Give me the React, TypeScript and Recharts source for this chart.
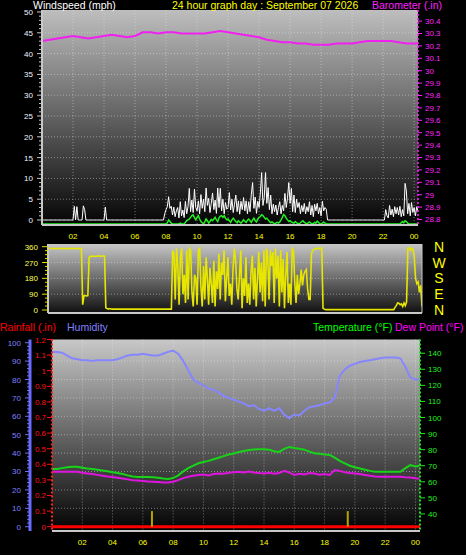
import React from 'react';
import { ComposedChart, Line, XAxis, YAxis, CartesianGrid, ReferenceLine } from 'recharts';

const FONT = '"Liberation Sans", Arial, Helvetica, sans-serif';

// ---------- categories / ticks ----------
const HOUR_TICKS = [2, 4, 6, 8, 10, 12, 14, 16, 18, 20, 22, 24];
const WIND_TICKS = [0,1,2,3,4,5,6,7,8,9,10,11,12,13,14,15,16,17,18,19,20,21,22,23,24,25,26,27,28,29,30,31,32,33,34,35,36,37,38,39,40,41,42,43,44,45,46,47,48,49,50];
const WIND_GRID = [5, 10, 15, 20, 25, 30, 35, 40, 45];
const BARO_TICKS = [28.8, 28.9, 29.0, 29.1, 29.2, 29.3, 29.4, 29.5, 29.6, 29.7, 29.8, 29.9, 30.0, 30.1, 30.2, 30.3, 30.4];
const DIR_TICKS = [0, 22.5, 45, 67.5, 90, 112.5, 135, 157.5, 180, 202.5, 225, 247.5, 270, 292.5, 315, 337.5, 360];
const DIR_GRID = [90, 180, 270];
const COMPASS_TICKS = [0, 90, 180, 270, 360];
const COMPASS_LABELS = ['N', 'E', 'S', 'W', 'N'];
const HUM_TICKS = [0,2,4,6,8,10,12,14,16,18,20,22,24,26,28,30,32,34,36,38,40,42,44,46,48,50,52,54,56,58,60,62,64,66,68,70,72,74,76,78,80,82,84,86,88,90,92,94,96,98,100];
const HUM_GRID = [10, 20, 30, 40, 50, 60, 70, 80, 90];
const RAIN_TICKS = [0, 0.1, 0.2, 0.3, 0.4, 0.5, 0.6, 0.7, 0.8, 0.9, 1.0, 1.1, 1.2];
const TEMP_TICKS = [40, 50, 60, 70, 80, 90, 100, 110, 120, 130, 140];

// ---------- sample times (hours) ----------
const WIND_TIMES = Array.from({ length: 292 }, (_, i) => i / 12); // 5-minute samples
const SLOW_TIMES = [...Array.from({ length: 73 }, (_, i) => i / 3), 24.25]; // 20-minute samples
const BARO_TIMES = [...Array.from({ length: 49 }, (_, i) => i / 2), 24.25]; // 30-minute samples
const RAIN_TIMES = [0, 24.3];

// ---------- series values ----------
const windGust = [
  0,0,0,0,0,0,0,0,0,0,0,0,
  0,0,0,0,0,0,0,0,0,0,0,0,
  0,3.3,0,3.2,0,0,0,0,3.4,2.5,0,0,
  0,0,0,0,0,0,0,0,0,0,0,0,
  0,3.1,0,0,0,0,0,0,0,0,0,0,
  0,0,0,0,0,0,0,0,0,0,0,0,
  0,0,0,0,0,0,0,0,0,0,0,0,
  0,0,0,0,0,0,0,0,0,0,0,1.5,
  2.5,3.2,5.6,2.8,3.3,1.2,3.1,0.8,2.2,3.0,0.5,4.4,
  1.0,2.4,0.6,4.5,1.5,3.2,7.6,2.0,4.8,1.8,7.4,3.0,
  2.2,4.6,1.5,6.1,2.8,5.0,2.0,7.7,3.5,5.2,1.8,4.0,
  6.5,2.5,4.8,1.6,7.7,3.0,7.6,2.2,5.0,1.5,4.2,2.6,
  3.0,6.6,2.4,5.0,1.8,3.8,6.0,2.0,4.6,1.4,4.5,2.5,
  5.4,2.2,4.6,1.5,4.4,2.0,6.2,9.0,2.8,5.5,1.6,4.5,
  3.0,6.5,11.4,3.5,5.5,11.4,4.0,7.8,2.5,6.0,1.5,3.8,
  2.0,3.6,1.2,3.0,4.4,1.5,3.5,2.2,6.4,3.0,5.2,9.0,
  4.0,7.6,2.0,6.0,1.8,5.0,3.0,4.2,1.5,3.5,2.0,4.0,
  1.5,3.2,2.0,4.4,1.2,3.5,0.8,3.8,2.2,4.0,1.5,3.0,
  1.0,4.5,2.2,3.0,2.6,0,0,0,0,0,0,0,
  0,0,0,0,0,0,0,0,0,0,0,0,
  0,0,0,0,0,0,0,0,0,0,0,0,
  0,0,0,0,0,0,0,0,0,0,0,0,
  0,0,2.5,1.0,0.5,3.5,1.2,2.6,0.8,3.2,1.5,3.0,
  1.2,3.3,0.8,2.5,1.0,8.8,7.0,1.5,4.0,1.0,4.2,1.8,
  3.0,1.0,3.2,2.0,
];

const windAvg = [
  0,0,0,0,0,0,0,0,0,0,0,0,
  0,0,0,0,0,0,0,0,0,0,0,0,
  0,0,0,0,0,0,0,0,0,0,0,0,
  0,0,0,0,0,0,0,0,0,0,0,0,
  0,0,0,0,0,0,0,0,0,0,0,0,
  0,0,0,0,0,0,0,0,0,0,0,0,
  0,0,0,0,0,0,0,0,0,0,0,0,
  0,0,0,0,0,0,0,0,0,0,0,0,
  0,0.3,1.0,0.6,0.2,0,0,0,0,0,0,0.2,
  0,0,0,0.4,0.8,1.0,1.2,1.6,2.0,2.2,1.5,1.0,
  1.6,2.0,1.2,0.6,0.3,0,0.5,1.2,0.8,0.2,0.6,1.1,
  0.8,1.2,1.6,1.0,0.6,1.5,1.9,2.0,1.6,2.0,1.4,1.0,
  1.2,0.8,0.4,1.0,1.4,1.0,0.6,0.3,0.8,0.5,0.2,0.6,
  1.0,0.6,0.4,0.9,1.2,0.8,0.4,1.0,1.4,0.8,0.5,1.2,
  1.6,1.8,2.2,2.0,1.6,1.2,1.4,1.0,0.6,0.3,0.5,0.3,
  0,0.2,0.4,0.2,0.5,1.0,1.6,2.3,2.0,1.4,1.0,0.6,
  0.8,0.5,0.3,0.2,0.6,0.3,0.1,0,0.3,0.6,0.8,0.4,
  0.2,0,0.3,0.5,0.2,0,0.1,0.4,0.2,0.7,0.4,0,
  0,0.2,0.5,0.2,0,0,0,0,0,0,0,0,
  0,0,0,0,0,0,0,0,0,0,0,0,
  0,0,0,0,0,0,0,0,0,0,0,0,
  0,0,0,0,0,0,0,0,0,0,0,0,
  0,0,0,0,0,0,0,0,0,0,0,0,
  0,0,0.3,0.6,0.3,0.8,0.6,0.2,0,0,0,0,
  0,0,0,0,
];

const windDir = [
  350,350,350,350,350,350,350,350,350,350,350,350,
  350,350,350,350,350,350,350,350,350,350,350,350,
  350,350,350,30,80,82,80,82,300,305,305,306,
  306,305,306,308,306,307,306,308,306,12,8,5,
  8,6,5,5,5,5,5,5,5,5,5,5,
  5,5,5,5,5,5,5,5,5,5,5,5,
  5,5,5,5,5,5,5,5,5,5,5,5,
  5,5,5,5,5,5,5,5,5,5,5,5,
  5,340,320,60,350,250,30,300,350,90,200,40,
  340,60,350,340,100,20,200,180,30,340,350,130,
  20,250,60,300,180,30,240,150,40,280,20,220,
  120,320,60,270,200,340,50,180,300,80,150,30,
  240,350,280,120,60,200,340,10,180,80,300,40,
  150,30,220,310,60,240,20,180,330,100,270,50,
  340,20,350,300,60,340,250,330,40,350,180,310,
  20,340,100,290,10,200,330,40,150,30,350,340,
  160,40,200,90,150,230,140,200,220,230,120,60,
  60,320,340,345,348,350,350,352,350,352,10,5,
  2,2,2,2,2,2,2,2,2,2,2,2,
  2,2,2,2,2,2,2,2,2,2,2,2,
  2,2,2,2,2,2,2,2,2,2,2,2,
  2,2,2,2,2,2,2,2,2,2,2,2,
  2,2,2,2,2,2,15,25,40,38,30,35,
  20,40,25,45,350,355,340,350,345,300,180,150,
  160,100,140,20,
];

const barometer = [
  30.24, 30.25, 30.26, 30.27, 30.28, 30.27, 30.26, 30.27, 30.28, 30.29,
  30.28, 30.27, 30.28, 30.31, 30.31, 30.30, 30.31, 30.31, 30.30, 30.30,
  30.30, 30.30, 30.31, 30.32, 30.31, 30.30, 30.29, 30.28, 30.27, 30.25,
  30.24, 30.23, 30.23, 30.22, 30.22, 30.21, 30.21, 30.21, 30.22, 30.22,
  30.22, 30.23, 30.24, 30.24, 30.24, 30.24, 30.23, 30.22, 30.22, 30.22,
];

const humidity = [
  95, 95, 94.5, 93, 91.5, 91, 90.5, 90.5, 90, 90.5, 90.5, 90.5, 90.5, 91, 92, 93, 93.5, 93.5, 94, 93.5,
  93, 93, 94, 95, 95.7, 94, 90, 85, 80, 78, 77, 75, 74.5, 73, 71, 70, 69, 68, 67, 65.5,
  66, 64, 63, 64.5, 63, 64.5, 61, 59, 61, 60.5, 63, 65, 65.5, 66, 67, 67.5, 70, 82, 85.5, 87.5,
  88.5, 89.5, 90, 90.5, 91, 91.5, 92, 92, 92, 91.5, 87, 81, 80, 80,
];

const temperature = [
  68, 68, 68.5, 69, 69.3, 69.3, 68.8, 68.3, 68, 67.5, 67, 66.5, 66, 65.5, 64.8, 64, 63.3, 63, 63, 63,
  62.8, 62.5, 62, 61.7, 62.3, 64, 66.5, 68.5, 70, 71.5, 72.3, 73, 74, 75, 76, 77, 77.6, 78.5, 79.2, 79.8,
  80.1, 80.3, 80.2, 80, 79, 78.6, 80.5, 81.7, 81, 80.5, 80, 78.8, 77.8, 77.5, 77, 76.7, 75, 73, 71.5, 70,
  69, 68.3, 67.5, 66.8, 66.3, 66.2, 66.2, 66.2, 66.2, 66.2, 68.5, 70.4, 69.5, 70,
];

const dewPoint = [
  66.2, 66.2, 66.2, 66.3, 66.2, 66.2, 65.6, 65.2, 64.8, 64.3, 63.8, 63.3, 63, 62.5, 62, 61.5, 61, 60.8, 60.5, 60.2,
  60, 59.8, 59.6, 59.6, 60, 61, 62.3, 63.1, 63.8, 64.2, 64.5, 64, 64.8, 65.2, 65, 65.6, 66, 66.2, 65.8, 66.4,
  65.8, 65.4, 65.2, 65.6, 65, 65.4, 66.8, 65.8, 64.2, 65, 64.6, 65.4, 65.2, 64.4, 64.8, 64.2, 67.3, 66.8, 66, 65.5,
  65.2, 64.8, 64.2, 63.7, 63.3, 63.1, 63.1, 63.1, 63.1, 63.1, 62.8, 62.7, 62.2, 61.9,
];

const rainfall = [0, 0];
const RAIN_MARK_TIMES = [6.6, 19.53];
const RAIN_MARK_VALUES = [0.1, 0.1];

// ---------- build series tables ----------
const mk = (times: number[], values: number[]) => times.map((h, i) => ({ h, v: values[i] }));
const gustData = mk(WIND_TIMES, windGust);
const avgData = mk(WIND_TIMES, windAvg);
const dirData = mk(WIND_TIMES, windDir);
const baroData = mk(BARO_TIMES, barometer);
const humData = mk(SLOW_TIMES, humidity);
const tempData = mk(SLOW_TIMES, temperature);
const dewData = mk(SLOW_TIMES, dewPoint);
const rainData = mk(RAIN_TIMES, rainfall);

// ---------- tick renderers ----------
const hourLabel = (h: number) => (h % 24 === 0 ? '00' : String(h).padStart(2, '0'));
const trimNum = (v: number) => String(Number(v.toFixed(1)));

type TickOpts = {
  side: 'left' | 'right';
  color: string;
  tickColor: string;
  isMajor: (v: number) => boolean;
  fmt: (v: number) => string;
  majorLen: number;
  minorLen: number;
  gap: number;
};

const makeTick = (o: TickOpts) => (props: any) => {
  const { x, y, payload } = props;
  const v = Number(payload.value);
  const major = o.isMajor(v);
  const len = major ? o.majorLen : o.minorLen;
  const sgn = o.side === 'left' ? -1 : 1;
  return (
    <g>
      <line x1={x} x2={x + sgn * len} y1={y} y2={y} stroke={o.tickColor} strokeWidth={1} />
      {major ? (
        <text
          x={x + sgn * o.gap}
          y={y + 3}
          textAnchor={o.side === 'left' ? 'end' : 'start'}
          fill={o.color}
          fontSize={8}
          fontFamily={FONT}
        >
          {o.fmt(v)}
        </text>
      ) : null}
    </g>
  );
};

const windTick = makeTick({ side: 'left', color: '#f2f4ff', tickColor: '#c8c8c8', isMajor: (v) => v % 5 === 0, fmt: (v) => String(v), majorLen: 5, minorLen: 3, gap: 9 });
const baroTick = makeTick({ side: 'right', color: '#ff22ff', tickColor: '#ff22ff', isMajor: () => true, fmt: trimNum, majorLen: 4, minorLen: 2, gap: 7 });
const dirTick = makeTick({ side: 'left', color: '#ffff50', tickColor: '#e0e000', isMajor: (v) => v % 90 === 0, fmt: (v) => String(v), majorLen: 6, minorLen: 3, gap: 10 });
const humTick = makeTick({ side: 'left', color: '#8080ff', tickColor: '#7070ff', isMajor: (v) => v % 10 === 0, fmt: (v) => String(v), majorLen: 5, minorLen: 3, gap: 9 });
const rainTick = makeTick({ side: 'left', color: '#ff1010', tickColor: '#ff1010', isMajor: () => true, fmt: trimNum, majorLen: 5, minorLen: 2, gap: 6 });
const tempTick = makeTick({ side: 'right', color: '#20f020', tickColor: '#20f020', isMajor: () => true, fmt: (v) => String(v), majorLen: 5, minorLen: 2, gap: 8 });

const hourTick = (props: any) => (
  <text x={props.x} y={props.y + 14} textAnchor="middle" fill="#ffff00" fontSize={8} fontFamily={FONT}>
    {hourLabel(Number(props.payload.value))}
  </text>
);

const compassTick = (props: any) => {
  const idx = COMPASS_TICKS.indexOf(Number(props.payload.value));
  return (
    <text x={props.x + 17} y={props.y + 5} textAnchor="middle" fill="#ffff00" fontSize={14} fontFamily={FONT}>
      {COMPASS_LABELS[idx]}
    </text>
  );
};

const GRID_STYLE = { stroke: '#e8e8e8', strokeOpacity: 0.45, strokeDasharray: '1 2' };
const noAnim = { isAnimationActive: false, dot: false, activeDot: false, type: 'linear' as const };

function WindPanel() {
  return (
    <ComposedChart width={466} height={245} margin={{ top: 10, right: 0, bottom: 0, left: 0 }}>
      <defs>
        <linearGradient id="bgWind" x1="0" y1="0" x2="0" y2="1">
          <stop offset="0%" stopColor="#bebebe" />
          <stop offset="100%" stopColor="#040404" />
        </linearGradient>
      </defs>
      <CartesianGrid yAxisId="a_wind" fill="url(#bgWind)" fillOpacity={1} {...GRID_STYLE} horizontalValues={WIND_GRID} verticalValues={HOUR_TICKS} />
      <XAxis dataKey="h" type="number" domain={[0, 24.25]} ticks={HOUR_TICKS} interval={0} height={20} tickSize={0} tickMargin={0} tickLine={false} axisLine={{ stroke: '#c8c8c8', strokeWidth: 2 }} tick={hourTick} allowDataOverflow />
      <YAxis yAxisId="a_wind" orientation="left" width={42} type="number" domain={[-1.2, 50.48]} ticks={WIND_TICKS} interval={0} tickSize={0} tickMargin={0} tickLine={false} axisLine={{ stroke: '#c8c8c8', strokeWidth: 2 }} tick={windTick} allowDataOverflow />
      <YAxis yAxisId="b_baro" orientation="right" width={48} type="number" domain={[28.7556, 30.4895]} ticks={BARO_TICKS} interval={0} tickSize={0} tickMargin={0} tickLine={false} axisLine={{ stroke: '#ff22ff', strokeWidth: 1.5, strokeDasharray: '2 2' }} tick={baroTick} allowDataOverflow />
      <YAxis yAxisId="z_avg" orientation="right" hide width={0} type="number" domain={[-0.24, 51.44]} allowDataOverflow />
      <Line yAxisId="a_wind" data={gustData} dataKey="v" stroke="#ffffff" strokeWidth={1} {...noAnim} />
      <Line yAxisId="z_avg" data={avgData} dataKey="v" stroke="#22f022" strokeWidth={1.5} {...noAnim} />
      <Line yAxisId="b_baro" data={baroData} dataKey="v" stroke="#f020f0" strokeWidth={2} {...noAnim} />
    </ComposedChart>
  );
}

function DirectionPanel() {
  return (
    <ComposedChart width={466} height={80} margin={{ top: 4, right: 0, bottom: 4, left: 0 }}>
      <defs>
        <linearGradient id="bgDir" x1="0" y1="0" x2="0" y2="1">
          <stop offset="0%" stopColor="#c6c6c6" />
          <stop offset="100%" stopColor="#101010" />
        </linearGradient>
      </defs>
      <CartesianGrid yAxisId="a_dir" fill="url(#bgDir)" fillOpacity={1} {...GRID_STYLE} horizontalValues={DIR_GRID} verticalValues={HOUR_TICKS} />
      <XAxis dataKey="h" type="number" domain={[0, 24.25]} ticks={HOUR_TICKS} interval={0} height={3} tick={false} tickLine={false} axisLine={{ stroke: '#c8c8c8', strokeWidth: 2 }} allowDataOverflow />
      <YAxis yAxisId="a_dir" orientation="left" width={48} type="number" domain={[-17.06, 375.36]} ticks={DIR_TICKS} interval={0} tickSize={0} tickMargin={0} tickLine={false} axisLine={{ stroke: '#c8c8c8', strokeWidth: 2 }} tick={dirTick} allowDataOverflow />
      <YAxis yAxisId="b_compass" orientation="right" width={44} type="number" domain={[-17.06, 375.36]} ticks={COMPASS_TICKS} interval={0} tickSize={0} tickMargin={0} tickLine={false} axisLine={{ stroke: '#c8c8c8', strokeWidth: 1 }} tick={compassTick} allowDataOverflow />
      <Line yAxisId="a_dir" data={dirData} dataKey="v" stroke="#e6e600" strokeWidth={1.6} {...noAnim} />
    </ComposedChart>
  );
}

function ClimatePanel() {
  return (
    <ComposedChart width={466} height={225} margin={{ top: 9.5, right: 0, bottom: 4, left: 0 }}>
      <defs>
        <linearGradient id="bgClim" x1="0" y1="0" x2="0" y2="1">
          <stop offset="0%" stopColor="#c8c8c8" />
          <stop offset="100%" stopColor="#020202" />
        </linearGradient>
      </defs>
      <CartesianGrid yAxisId="b_hum" fill="url(#bgClim)" fillOpacity={1} {...GRID_STYLE} horizontalValues={HUM_GRID} verticalValues={HOUR_TICKS} />
      <XAxis dataKey="h" type="number" domain={[0, 24.3]} ticks={HOUR_TICKS} interval={0} height={20} tickSize={0} tickMargin={0} tickLine={false} axisLine={{ stroke: '#c8c8c8', strokeWidth: 2 }} tick={hourTick} allowDataOverflow />
      <YAxis yAxisId="a_rain" orientation="left" width={22} type="number" domain={[-0.0276, 1.2]} ticks={RAIN_TICKS} interval={0} tickSize={0} tickMargin={0} tickLine={false} axisLine={{ stroke: '#ff2020', strokeWidth: 2, strokeDasharray: '2 2' }} tick={rainTick} allowDataOverflow />
      <YAxis yAxisId="b_hum" orientation="left" width={30} type="number" domain={[-2.34, 101.74]} ticks={HUM_TICKS} interval={0} tickSize={0} tickMargin={0} tickLine={false} axisLine={{ stroke: '#6a6aff', strokeWidth: 3 }} tick={humTick} allowDataOverflow />
      <YAxis yAxisId="c_temp" orientation="right" width={46} type="number" domain={[29.38, 148.54]} ticks={TEMP_TICKS} interval={0} tickSize={0} tickMargin={0} tickLine={false} axisLine={{ stroke: '#20e020', strokeWidth: 2, strokeDasharray: '2 2' }} tick={tempTick} allowDataOverflow />
      <Line yAxisId="a_rain" data={rainData} dataKey="v" stroke="#ff0000" strokeWidth={3} {...noAnim} />
      {RAIN_MARK_TIMES.map((h, i) => (
        <ReferenceLine key={i} yAxisId="a_rain" segment={[{ x: h, y: 0 }, { x: h, y: RAIN_MARK_VALUES[i] }]} stroke="#b4a400" strokeWidth={2} />
      ))}
      <Line yAxisId="c_temp" data={tempData} dataKey="v" stroke="#18d418" strokeWidth={2} {...noAnim} />
      <Line yAxisId="c_temp" data={dewData} dataKey="v" stroke="#e014e0" strokeWidth={2} {...noAnim} />
      <Line yAxisId="b_hum" data={humData} dataKey="v" stroke="#8686ff" strokeWidth={2} {...noAnim} />
    </ComposedChart>
  );
}

export default function App() {
  return (
    <div style={{ position: 'absolute', left: 0, top: 0, width: 466, height: 555, background: '#000', overflow: 'hidden', fontFamily: FONT }}>
      <div style={{ position: 'absolute', left: 0, top: 0 }}>
        <WindPanel />
      </div>
      <div style={{ position: 'absolute', left: 0, top: 240 }}>
        <DirectionPanel />
      </div>
      <div style={{ position: 'absolute', left: 0, top: 330 }}>
        <ClimatePanel />
      </div>
      <svg width={466} height={555} style={{ position: 'absolute', left: 0, top: 0, pointerEvents: 'none' }}>
        <g fontFamily={FONT} fontSize={10.5}>
          <text x={33} y={9} fill="#ffffff">Windspeed (mph)</text>
          <text x={172} y={9} fill="#ffff00">24 hour graph day : September 07 2026</text>
          <text x={372} y={9} fill="#ff22ff">Barometer (.in)</text>
          <text x={0} y={331} fill="#ff0000">Rainfall (.in)</text>
          <text x={67} y={331} fill="#8080ff">Humidity</text>
          <text x={313} y={331} fill="#00ff00">Temperature (°F)</text>
          <text x={395} y={331} fill="#ff00ff">Dew Point (°F)</text>
        </g>
      </svg>
    </div>
  );
}
